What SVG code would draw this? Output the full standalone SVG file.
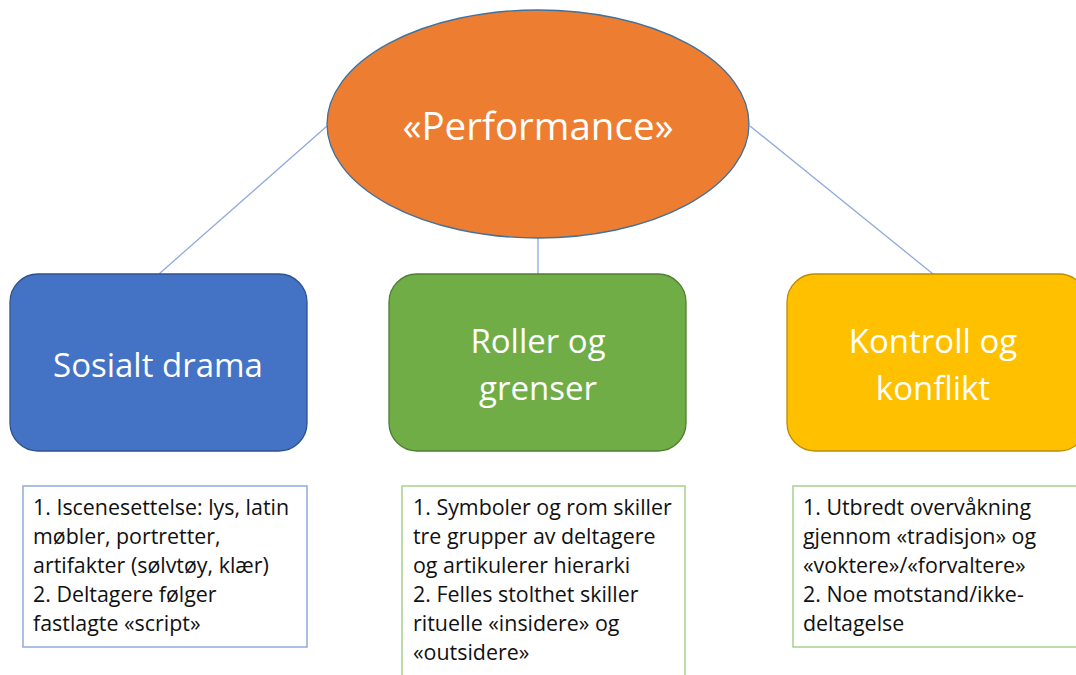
<svg xmlns="http://www.w3.org/2000/svg" width="1076" height="675" viewBox="0 0 1076 675">
<style>
.conn{stroke:#8FAADC;stroke-width:1.3;fill:none}
.big{font-family:"Open Sans",Lato,"Noto Sans",sans-serif;fill:#ffffff;text-anchor:middle}
.body{font-family:"Open Sans",Lato,"Noto Sans",sans-serif;fill:#111111;font-size:21.4px}
</style>
<rect width="1076" height="675" fill="#ffffff"/>
<g id="connectors">
<line class="conn" x1="327" y1="126" x2="159" y2="274"/>
<line class="conn" x1="538" y1="238" x2="538" y2="274"/>
<line class="conn" x1="750" y1="126" x2="933" y2="274"/>
</g>
<g id="performance">
<ellipse cx="538" cy="124" rx="211" ry="114" fill="#ED7D31" stroke="#41719C" stroke-width="1.3"/>
<text class="big" x="538" y="140" font-size="38.5">«Performance»</text>
</g>
<g id="sosialt-drama">
<rect x="10" y="274" width="297" height="177" rx="28" fill="#4472C4" stroke="#2F528F" stroke-width="1.3"/>
<text class="big" x="158" y="377" font-size="33">Sosialt drama</text>
</g>
<g id="roller-og-grenser">
<rect x="389" y="274" width="297" height="177" rx="28" fill="#70AD47" stroke="#507E32" stroke-width="1.3"/>
<text class="big" x="538" y="353" font-size="33">Roller og</text>
<text class="big" x="538" y="400" font-size="33">grenser</text>
</g>
<g id="kontroll-og-konflikt">
<rect x="787" y="274" width="300" height="177" rx="28" fill="#FFC000" stroke="#BC8C00" stroke-width="1.3"/>
<text class="big" x="933" y="353" font-size="33">Kontroll og</text>
<text class="big" x="933" y="400" font-size="33">konflikt</text>
</g>
<g id="detail-sosialt">
<rect x="23" y="486" width="284" height="161" fill="#ffffff" stroke="#8FAADC" stroke-width="1.5"/>
<text class="body" x="33" y="515">1. Iscenesettelse: lys, latin</text>
<text class="body" x="33" y="544">møbler, portretter,</text>
<text class="body" x="33" y="573">artifakter (sølvtøy, klær)</text>
<text class="body" x="33" y="602">2. Deltagere følger</text>
<text class="body" x="33" y="631">fastlagte «script»</text>
</g>
<g id="detail-roller">
<rect x="402" y="486" width="283" height="200" fill="#ffffff" stroke="#A9D18E" stroke-width="1.5"/>
<text class="body" x="413" y="515">1. Symboler og rom skiller</text>
<text class="body" x="413" y="544">tre grupper av deltagere</text>
<text class="body" x="413" y="573">og artikulerer hierarki</text>
<text class="body" x="413" y="602">2. Felles stolthet skiller</text>
<text class="body" x="413" y="631">rituelle «insidere» og</text>
<text class="body" x="413" y="660">«outsidere»</text>
</g>
<g id="detail-kontroll">
<rect x="793" y="486" width="290" height="161" fill="#ffffff" stroke="#A9D18E" stroke-width="1.5"/>
<text class="body" x="803" y="515">1. Utbredt overvåkning</text>
<text class="body" x="803" y="544">gjennom «tradisjon» og</text>
<text class="body" x="803" y="573">«voktere»/«forvaltere»</text>
<text class="body" x="803" y="602">2. Noe motstand/ikke-</text>
<text class="body" x="803" y="631">deltagelse</text>
</g>
</svg>
